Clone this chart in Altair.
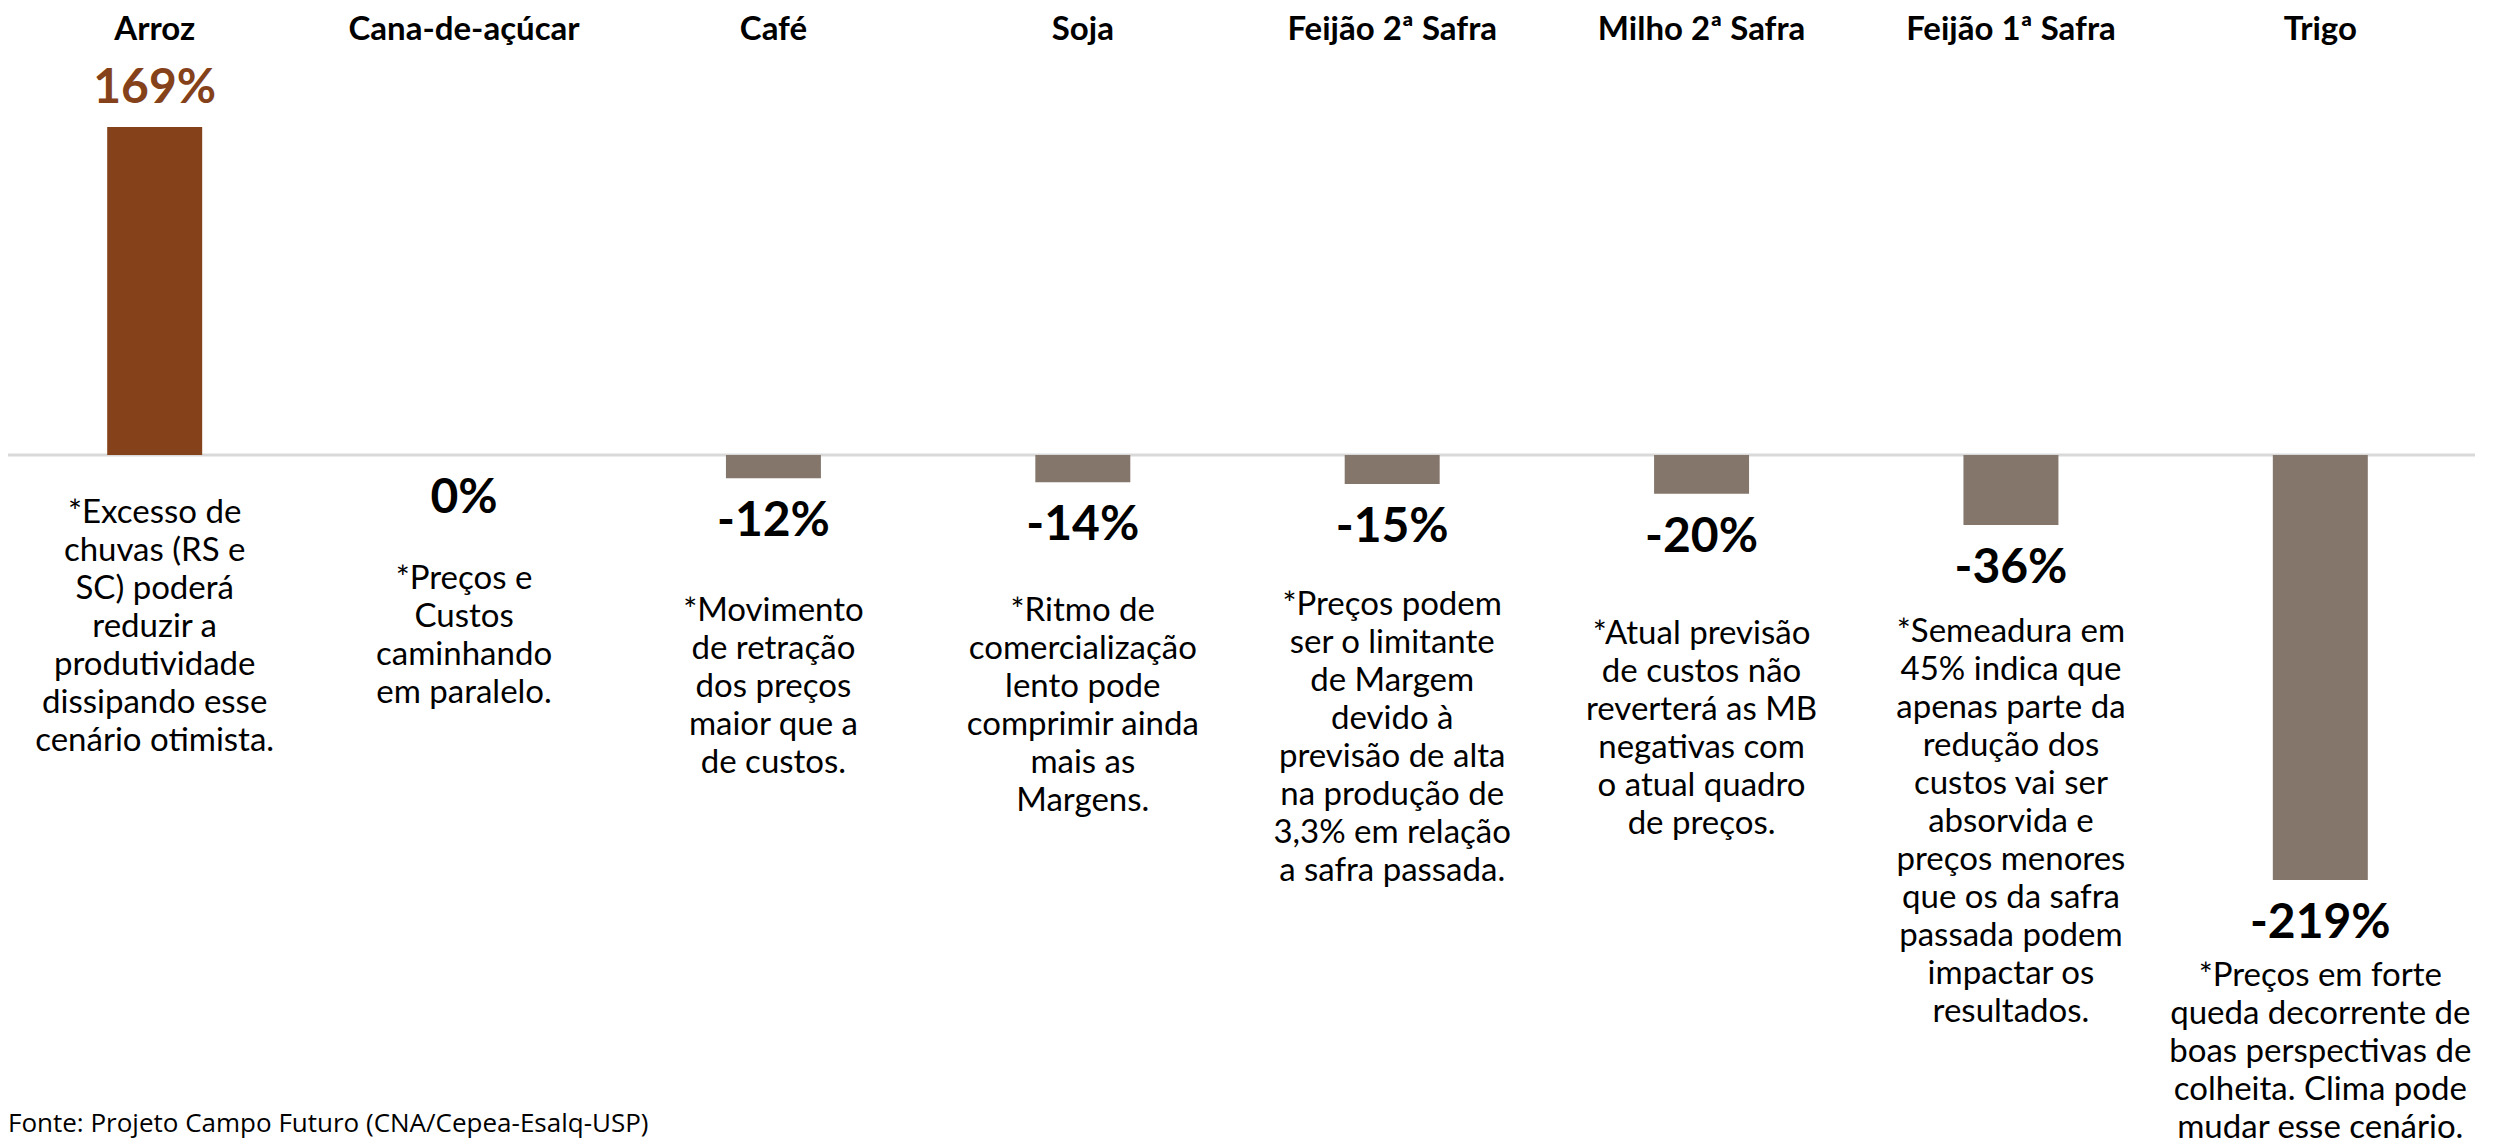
import altair as alt
import pandas as pd

crops = ["Arroz", "Cana-de-açúcar", "Café", "Soja", "Feijão 2ª Safra",
         "Milho 2ª Safra", "Feijão 1ª Safra", "Trigo"]
values = [169, 0, -12, -14, -15, -20, -36, -219]
notes = [
    ["*Excesso de", "chuvas (RS e", "SC) poderá", "reduzir a", "produtividade",
     "dissipando esse", "cenário otimista."],
    ["*Preços e", "Custos", "caminhando", "em paralelo."],
    ["*Movimento", "de retração", "dos preços", "maior que a", "de custos."],
    ["*Ritmo de", "comercialização", "lento pode", "comprimir ainda", "mais as", "Margens."],
    ["*Preços podem", "ser o limitante", "de Margem", "devido à", "previsão de alta",
     "na produção de", "3,3% em relação", "a safra passada."],
    ["*Atual previsão", "de custos não", "reverterá as MB", "negativas com",
     "o atual quadro", "de preços."],
    ["*Semeadura em", "45% indica que", "apenas parte da", "redução dos",
     "custos vai ser", "absorvida e", "preços menores", "que os da safra",
     "passada podem", "impactar os", "resultados."],
    ["*Preços em forte", "queda decorrente de", "boas perspectivas de",
     "colheita. Clima pode", "mudar esse cenário."],
]
# vertical anchor (in % units) of the first line of each note
note_y = [-29.9, -63.9, -80.4, -80.4, -77.3, -92.2, -91.2, -268.4]
footer = "Fonte: Projeto Campo Futuro (CNA/Cepea-Esalq-USP)"

BROWN = "#85421A"
GRAY = "#84766B"
FONT = "Lato"

df = pd.DataFrame({
    "crop": crops,
    "value": values,
    "label": [f"{v}%" for v in values],
    "note": ["\n".join(n) for n in notes],
    "note_y": note_y,
})

yscale = alt.Scale(domain=[-354.97, 230.3], nice=False, zero=False)
xenc = alt.X("crop:N", sort=crops, axis=None,
             scale=alt.Scale(paddingInner=0.693, paddingOuter=0.3465))
OFF = -8

base = alt.Chart(df).encode(x=xenc)

zero = alt.Chart(pd.DataFrame({"z": [0]})).mark_rule(
    color="#D9D9D9", strokeWidth=3, xOffset=OFF
).encode(y=alt.Y("z:Q", scale=yscale, axis=None))

bars = base.mark_bar(xOffset=OFF).encode(
    y=alt.Y("value:Q", scale=yscale, axis=None),
    y2=alt.datum(0),
    color=alt.condition("datum.value > 0", alt.value(BROWN), alt.value(GRAY)),
)

titles = base.mark_text(font=FONT, fontWeight="bold", fontSize=33, color="#000000",
                        baseline="middle", xOffset=OFF).encode(
    text="crop:N", y=alt.value(22))

pos_lab = base.transform_filter("datum.value > 0").mark_text(
    font=FONT, fontWeight="bold", fontSize=48, color=BROWN, dy=-38,
    baseline="middle", xOffset=OFF
).encode(y=alt.Y("value:Q", scale=yscale, axis=None), text="label:N")

neg_lab = base.transform_filter("datum.value <= 0").mark_text(
    font=FONT, fontWeight="bold", fontSize=48, color="#000000", dy=44,
    baseline="middle", xOffset=OFF
).encode(y=alt.Y("value:Q", scale=yscale, axis=None), text="label:N")

note_text = base.mark_text(
    font=FONT, fontSize=33, lineHeight=38, lineBreak="\n", baseline="line-top",
    dy=-19, color="#000000", xOffset=OFF
).encode(y=alt.Y("note_y:Q", scale=yscale, axis=None), text="note:N")

foot = alt.Chart(pd.DataFrame({"t": [footer]})).mark_text(
    font="Open Sans", fontSize=26, align="left", baseline="middle", color="#000000"
).encode(x=alt.value(0), y=alt.value(1116), text="t:N")

chart = alt.layer(zero, bars, titles, pos_lab, neg_lab, note_text, foot).properties(
    width=2475, height=1136, padding=0, autosize="none"
).configure_view(stroke=None)

chart.save("out.html", embed_options={"renderer": "svg", "actions": False})
